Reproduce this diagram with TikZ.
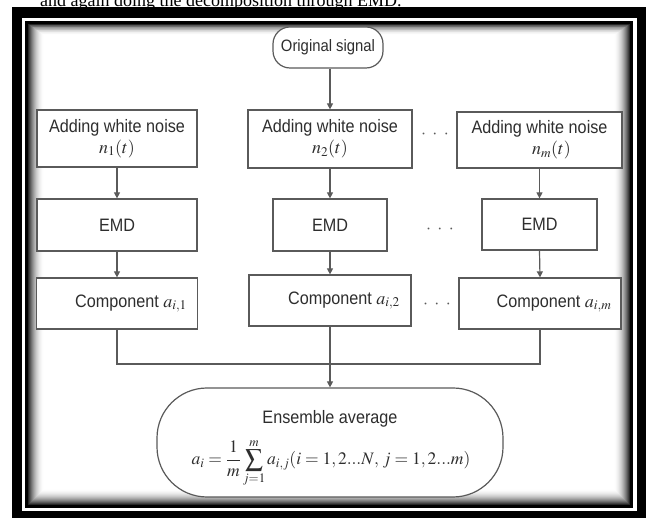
\documentclass[tikz,border=0pt]{standalone}
\usepackage{mathptmx}
\usepackage[no-math]{fontspec}
\setmainfont{Liberation Serif}
\newfontfamily\boxfont[FakeStretch=0.9]{Liberation Sans}
\usetikzlibrary{arrows.meta}
\definecolor{edgegray}{HTML}{5A5A5A}
\definecolor{inkgray}{HTML}{2E2E2E}

\begin{document}
\begin{tikzpicture}[x=1pt,y=-1pt,
  stepbox/.style={draw=edgegray, line width=1.2pt, fill=white, inner sep=0pt,
    text=inkgray, font=\boxfont\fontsize{18}{21}\selectfont, align=center},
  roundbox/.style={stepbox, rounded corners=#1},
  flow/.style={draw=edgegray, line width=1.2pt, -{Triangle[length=6pt,width=6pt]}},
  link/.style={draw=edgegray, line width=1.2pt},
  gapdots/.style={text=edgegray, inner sep=0pt, font=\fontsize{18}{18}\selectfont},
  inscription/.style={text=inkgray, inner sep=0pt}
]
\useasboundingbox (0,0) rectangle (646,518);

% page text and the framed panel
\begin{scope}
  \clip (0,0) rectangle (646,518);
  \node[anchor=base west, inner sep=0pt, font=\fontsize{18}{20}\selectfont] (caption)
    at (40,7) {and again doing the decomposition through EMD.};
  \fill[black] (12,7) rectangle (660,530);
  \fill[white] (22,18) rectangle (636.5,511.5);
  \fill[black] (25,21) rectangle (633,508);
  \foreach \k in {0,...,15}{
    \pgfmathsetmacro\shade{85*(1-\k/16)^2}
    \fill[black!\shade!white] (28+\k,24+0.7*\k) rectangle (630-\k,505-\k);
  }
  \fill[white] (44,35) rectangle (614,489);
\end{scope}

% source
\node[roundbox=17pt, minimum width=110pt, minimum height=41pt,
      font=\boxfont\fontsize{16.5}{20}\selectfont] (orig) at (328,47.5) {Original signal};

% noise branches
\node[stepbox, minimum width=160pt, minimum height=57pt] (n1) at (117,138.5)
  {Adding white noise\\ $n_1(t)$};
\node[stepbox, minimum width=164pt, minimum height=58pt] (n2) at (330,139)
  {Adding white noise\\ $n_2(t)$};
\node[stepbox, minimum width=165pt, minimum height=56pt] (n3) at (539.5,140)
  {Adding white noise\\ \hspace*{24pt}$n_m(t)$};

% decompositions
\node[stepbox, minimum width=160pt, minimum height=52pt] (e1) at (117,225) {EMD};
\node[stepbox, minimum width=114pt, minimum height=52pt] (e2) at (330,225) {EMD};
\node[stepbox, minimum width=115pt, minimum height=51pt] (e3) at (539.5,224.5) {EMD};

% components
\node[stepbox, minimum width=161pt, minimum height=51pt] (c1) at (117,303.5)
  {\hspace*{28pt}Component $a_{i,1}$};
\node[stepbox, minimum width=162pt, minimum height=51pt] (c2) at (330,300.5)
  {\hspace*{28pt}Component $a_{i,2}$};
\node[stepbox, minimum width=162pt, minimum height=51pt] (c3) at (540,303.5)
  {\hspace*{28pt}Component $a_{i,m}$};

% ellipses between branches
\node[gapdots] (d1) at (435,135) {$\cdot\;\cdot\;\cdot$};
\node[gapdots] (d2) at (440,230) {$\cdot\;\cdot\;\cdot$};
\node[gapdots] (d3) at (437,305) {$\cdot\;\cdot\;\cdot$};

% averaging
\node[roundbox=50pt, minimum width=346pt, minimum height=109pt] (ens) at (330,442.5) {};
\node[inscription, font=\boxfont\fontsize{18}{21}\selectfont] (enstitle) at (330,419)
  {Ensemble average};
\node[inscription, font=\fontsize{17.5}{21}\selectfont] (ensformula) at (331,463)
  {$\displaystyle a_i=\frac{1}{m}\sum_{j=1}^{m}a_{i,j}(i=1,2...N,\,j=1,2...m)$};

\coordinate (join) at (330,364);

% connectors
\draw[flow] (orig.south -| n2.north) -- (n2.north);
\draw[flow] (n1.south) -- (e1.north);
\draw[flow] (n2.south) -- (e2.north);
\draw[flow] (n3.south) -- (e3.north);
\draw[flow] (e1.south) -- (c1.north);
\draw[flow] (e2.south) -- (c2.north);
\draw[flow] (e3.south) -- (c3.north);
\draw[link] (c1.south) |- (join) -| (c3.south);
\draw[flow] (c2.south) -- (ens.north);
\end{tikzpicture}
\end{document}
